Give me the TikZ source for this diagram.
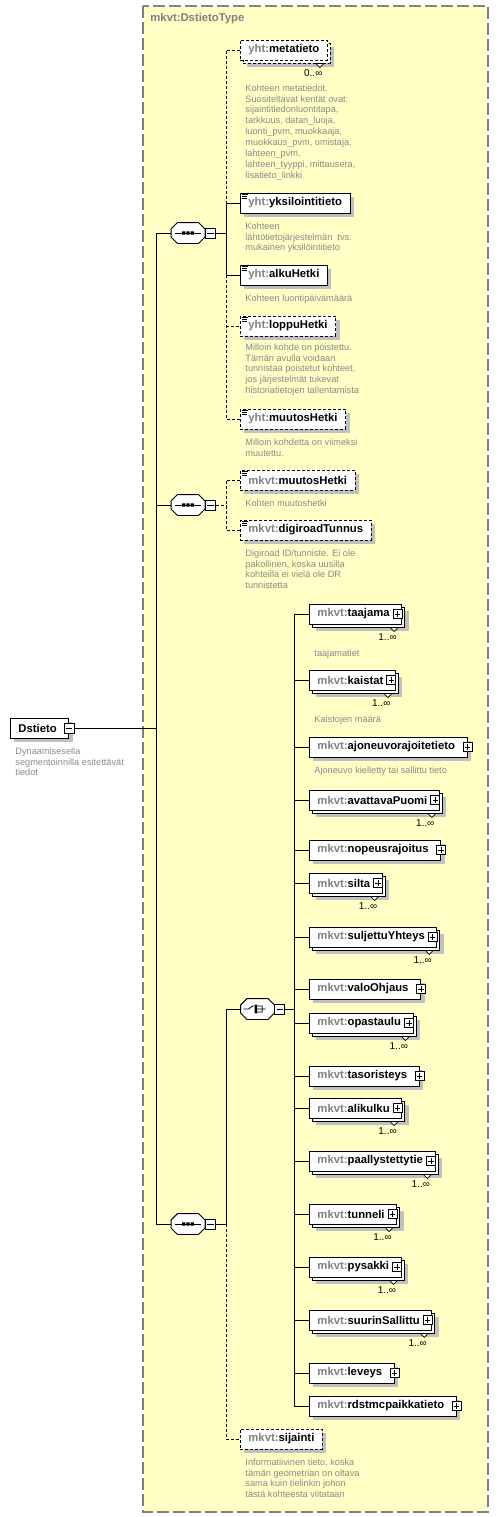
\documentclass[tikz,border=0pt]{standalone}
\usepackage{fontspec}
\setmainfont{Liberation Sans}
\usepackage{xcolor}
\usepackage{tikz}
\usetikzlibrary{positioning,shadows,calc}
\definecolor{typeyellow}{HTML}{FFFFC6}
\definecolor{framegray}{HTML}{808080}
\definecolor{pfxgray}{HTML}{808080}
\definecolor{descgray}{HTML}{8A8A8A}
\definecolor{shadegray}{HTML}{C0C0C0}
\newcommand{\elemfont}{\fontsize{11.3}{13.5}\selectfont\bfseries}
\newcommand{\docfont}{\fontsize{9.2}{10.9}\selectfont}
\newcommand{\xname}[2]{\textcolor{pfxgray}{#1:}#2}
% notch + occurrence label under a repeated element
\newcommand{\occurs}[2]{%
  \draw[solid, line width=0.7pt, fill=white] ([xshift=-12pt,yshift=-3pt]#1.south east) -- ([xshift=-4pt,yshift=-3pt]#1.south east) -- ([xshift=-8pt,yshift=-7pt]#1.south east) -- cycle;
  \node[mult] (#1Occ) at ([xshift=-5pt,yshift=-9pt]#1.south east) {#2};}
% octagon of a compositor, drawn round an invisible node
\newcommand{\octpath}[1]{([xshift=6.5pt]#1.north west) -- ([xshift=-6.5pt]#1.north east) -- ([yshift=-6.5pt]#1.north east) -- ([yshift=6.5pt]#1.south east) -- ([xshift=-6.5pt]#1.south east) -- ([xshift=6.5pt]#1.south west) -- ([yshift=6.5pt]#1.south west) -- ([yshift=-6.5pt]#1.north west) -- cycle}
\newcommand{\octbox}[1]{%
  \fill[shadegray, shift={(4pt,-4pt)}] \octpath{#1};
  \draw[fill=white] \octpath{#1};}
\newcommand{\seqmark}[1]{%
  \draw[line width=0.8pt] ([xshift=3.5pt]#1.west) -- ([xshift=-3.5pt]#1.east);
  \fill ([xshift=-5.8pt,yshift=-1.6pt]#1.center) rectangle +(3.2pt,3.2pt) ([xshift=-1.6pt,yshift=-1.6pt]#1.center) rectangle +(3.2pt,3.2pt) ([xshift=2.6pt,yshift=-1.6pt]#1.center) rectangle +(3.2pt,3.2pt);}
\newcommand{\choicemark}[1]{%
  \draw[line width=0.8pt] ([xshift=-14pt]#1.center) -- ([xshift=-9pt]#1.center) -- ([xshift=-4pt,yshift=3.5pt]#1.center)
    ([xshift=-0.5pt,yshift=3pt]#1.center) -- ([xshift=4.7pt,yshift=3pt]#1.center) -- ([xshift=4.7pt,yshift=-3pt]#1.center) -- ([xshift=-0.5pt,yshift=-3pt]#1.center)
    ([xshift=-0.5pt]#1.center) -- ([xshift=8pt]#1.center);
  \fill ([xshift=-3pt,yshift=-4.3pt]#1.center) rectangle +(2.7pt,2.6pt) ([xshift=-3pt,yshift=-1.3pt]#1.center) rectangle +(2.7pt,2.6pt) ([xshift=-3pt,yshift=1.7pt]#1.center) rectangle +(2.7pt,2.6pt);}

\begin{document}
\begin{tikzpicture}[x=1pt, y=-1pt, line width=0.9pt,
    elem/.style={draw, fill=white, rectangle, anchor=west, minimum height=20pt, inner xsep=8pt, inner ysep=0pt, font=\elemfont},
    one/.style={drop shadow={shadow xshift=4pt, shadow yshift=-4pt, fill=shadegray, opacity=1}},
    many/.style={drop shadow={shadow xshift=7pt, shadow yshift=-7pt, fill=shadegray, opacity=1}, copy shadow={shadow xshift=3pt, shadow yshift=-3pt}},
    opt/.style={dash pattern=on 3pt off 2pt},
    withplus/.style={execute at end node={\hspace{4pt}}},
    docmark/.style={path picture={\draw[solid, line width=0.7pt] ([xshift=2pt,yshift=-1.5pt]path picture bounding box.north west) -- ++(6pt,0pt) ([xshift=2pt,yshift=-3.2pt]path picture bounding box.north west) -- ++(5pt,0pt) ([xshift=2pt,yshift=-4.9pt]path picture bounding box.north west) -- ++(5pt,0pt);}},
    desc/.style={font=\docfont, text=descgray, align=left, anchor=north west, inner sep=0pt},
    mult/.style={font=\fontsize{10}{12}\selectfont, anchor=north east, inner sep=0pt},
    plusbox/.style={draw, solid, fill=white, rectangle, minimum size=9pt, inner sep=0pt, line width=0.8pt, path picture={\draw ([xshift=1.8pt]path picture bounding box.west) -- ([xshift=-1.8pt]path picture bounding box.east) ([yshift=-1.8pt]path picture bounding box.north) -- ([yshift=1.8pt]path picture bounding box.south);}},
    minusbox/.style={draw, solid, fill=white, rectangle, minimum size=10pt, inner sep=0pt, line width=0.8pt, path picture={\draw ([xshift=1.8pt]path picture bounding box.west) -- ([xshift=-1.8pt]path picture bounding box.east);}},
    compositor/.style={rectangle, minimum width=33pt, minimum height=20pt, inner sep=0pt}
]
\useasboundingbox (0,0) rectangle (499,1517);

% --- complex type frame ---
\draw[framegray, fill=typeyellow, line width=1.2pt, dash pattern=on 12pt off 4pt] (143,6) rectangle (488,1512);
\node[font=\elemfont, text=pfxgray, anchor=west, inner sep=0pt] (typeTitle) at (150,19) {mkvt:DstietoType};

% --- root element ---
\node[elem, one, withplus] (dstieto) at (10,728) {Dstieto};
\node[minusbox] (dstietoM) at (dstieto.east) {};
\node[desc] (dstietoD) at (15,747) {Dynaamisesella\\segmentoinnilla esitettävät\\tiedot};

% --- compositors ---
\node[compositor] (seqA) at (188,233) {};
\octbox{seqA}\seqmark{seqA}
\node[minusbox, right=0pt of seqA] (seqAM) {};
\node[compositor] (seqB) at (188,505) {};
\octbox{seqB}\seqmark{seqB}
\node[minusbox, right=0pt of seqB] (seqBM) {};
\node[compositor] (seqC) at (188,1224) {};
\octbox{seqC}\seqmark{seqC}
\node[minusbox, right=0pt of seqC] (seqCM) {};
\node[compositor] (choice) at (257.5,1009) {};
\octbox{choice}\choicemark{choice}
\node[minusbox, right=0pt of choice] (choiceM) {};

\coordinate (busMain) at (156,0);
\coordinate (busSeq) at (226,0);
\coordinate (busChoice) at (294,0);

% --- first sequence: yht elements ---
\node[elem, opt, many] (meta) at (240,50) {\xname{yht}{metatieto}};
\occurs{meta}{0..∞}
\node[desc] (metaD) at (245,84) {Kohteen metatiedot.\\Suositeltavat kentät ovat:\\sijaintitiedonluontitapa,\\tarkkuus, datan\_luoja,\\luonti\_pvm, muokkaaja,\\muokkaus\_pvm, omistaja,\\lahteen\_pvm,\\lahteen\_tyyppi, mittausera,\\lisatieto\_linkki};
\node[elem, one, docmark] (yksil) at (240,203) {\xname{yht}{yksilointitieto}};
\node[desc] (yksilD) at (245,222) {Kohteen\\lähtötietojärjestelmän\ \ tvs.\\mukainen yksilöintitieto};
\node[elem, one, docmark] (alku) at (240,275) {\xname{yht}{alkuHetki}};
\node[desc] (alkuD) at (245,294) {Kohteen luontipäivämäärä};
\node[elem, opt, one, docmark] (loppu) at (240,326) {\xname{yht}{loppuHetki}};
\node[desc] (loppuD) at (245,343) {Milloin kohde on poistettu.\\Tämän avulla voidaan\\tunnistaa poistetut kohteet,\\jos järjestelmät tukevat\\historiatietojen tallentamista};
\node[elem, opt, one, docmark] (muutosA) at (240,419) {\xname{yht}{muutosHetki}};
\node[desc] (muutosAD) at (245,438) {Milloin kohdetta on viimeksi\\muutettu.};

% --- second sequence ---
\node[elem, opt, one, docmark] (muutosB) at (240,480) {\xname{mkvt}{muutosHetki}};
\node[desc] (muutosBD) at (245,499) {Kohten muutoshetki};
\node[elem, opt, one, docmark] (digiroad) at (240,530) {\xname{mkvt}{digiroadTunnus}};
\node[desc] (digiroadD) at (245,549) {Digiroad ID/tunniste. Ei ole\\pakollinen, koska uusilla\\kohteilla ei vielä ole DR\\tunnistetta};

% --- choice members ---
\node[elem, many, withplus] (taajama) at (309,614) {\xname{mkvt}{taajama}};
\occurs{taajama}{1..∞}
\node[desc] (taajamaD) at (314,649) {taajamatiet};
\node[elem, many, withplus] (kaistat) at (309,680) {\xname{mkvt}{kaistat}};
\occurs{kaistat}{1..∞}
\node[desc] (kaistatD) at (314,715) {Kaistojen määrä};
\node[elem, one, withplus] (ajoneuvo) at (309,747) {\xname{mkvt}{ajoneuvorajoitetieto}};
\node[desc] (ajoneuvoD) at (314,766) {Ajoneuvo kielletty tai sallittu tieto};
\node[elem, many, withplus] (puomi) at (309,800) {\xname{mkvt}{avattavaPuomi}};
\occurs{puomi}{1..∞}
\node[elem, one, withplus] (nopeus) at (309,850) {\xname{mkvt}{nopeusrajoitus}};
\node[elem, many, withplus] (silta) at (309,883) {\xname{mkvt}{silta}};
\occurs{silta}{1..∞}
\node[elem, many, withplus] (suljettu) at (309,937) {\xname{mkvt}{suljettuYhteys}};
\occurs{suljettu}{1..∞}
\node[elem, one, withplus] (valo) at (309,989) {\xname{mkvt}{valoOhjaus}};
\node[elem, many, withplus] (opastaulu) at (309,1023) {\xname{mkvt}{opastaulu}};
\occurs{opastaulu}{1..∞}
\node[elem, one, withplus] (tasoristeys) at (309,1076) {\xname{mkvt}{tasoristeys}};
\node[elem, many, withplus] (alikulku) at (309,1108) {\xname{mkvt}{alikulku}};
\occurs{alikulku}{1..∞}
\node[elem, many, withplus] (paallyste) at (309,1161) {\xname{mkvt}{paallystettytie}};
\occurs{paallyste}{1..∞}
\node[elem, many, withplus] (tunneli) at (309,1214) {\xname{mkvt}{tunneli}};
\occurs{tunneli}{1..∞}
\node[elem, many, withplus] (pysakki) at (309,1267) {\xname{mkvt}{pysakki}};
\occurs{pysakki}{1..∞}
\node[elem, many, withplus] (suurin) at (309,1320) {\xname{mkvt}{suurinSallittu}};
\occurs{suurin}{1..∞}
\node[elem, one, withplus] (leveys) at (309,1373) {\xname{mkvt}{leveys}};
\node[elem, one, withplus] (rdstmc) at (309,1406) {\xname{mkvt}{rdstmcpaikkatieto}};
\foreach \n in {ajoneuvo,nopeus,valo,tasoristeys,leveys,rdstmc}
    \node[plusbox] (\n Plus) at (\n.east) {};
\foreach \n in {taajama,kaistat,puomi,silta,suljettu,opastaulu,alikulku,paallyste,tunneli,pysakki,suurin}
    \node[plusbox, anchor=east] (\n Plus) at ([xshift=0.4pt]\n.east) {};

% --- last optional element ---
\node[elem, opt, one] (sijainti) at (240,1439) {\xname{mkvt}{sijainti}};
\node[desc] (sijaintiD) at (245,1458) {Informatiivinen tieto, koska\\tämän geometrian on oltava\\sama kuin tielinkin johon\\tästä kohteesta viitataan};

% --- connectors ---
\draw (dstietoM.east) -- (dstietoM.east -| busMain);
\draw (seqA.west) -- (seqA.west -| busMain) -- (seqC.west -| busMain) -- (seqC.west);
\draw (seqB.west -| busMain) -- (seqB.west);

\draw (seqAM.east) -- (seqAM.east -| busSeq);
\draw[opt] (meta.west) -- (meta.west -| busSeq) -- (yksil.west -| busSeq);
\draw (yksil.west) -- (yksil.west -| busSeq) -- (alku.west -| busSeq) -- (alku.west);
\draw[opt] (alku.west -| busSeq) -- (muutosA.west -| busSeq) -- (muutosA.west);
\draw[opt] (loppu.west -| busSeq) -- (loppu.west);

\draw[opt] (seqBM.east) -- (seqBM.east -| busSeq);
\draw[opt] (muutosB.west) -- (muutosB.west -| busSeq) -- (digiroad.west -| busSeq) -- (digiroad.west);

\draw (seqCM.east) -- (seqCM.east -| busSeq) -- (choice.west -| busSeq) -- (choice.west);
\draw[opt] (seqCM.east -| busSeq) -- (sijainti.west -| busSeq) -- (sijainti.west);

\draw (choiceM.east) -- (choiceM.east -| busChoice);
\draw (taajama.west -| busChoice) -- (rdstmc.west -| busChoice);
\foreach \n in {taajama,kaistat,ajoneuvo,puomi,nopeus,silta,suljettu,valo,opastaulu,tasoristeys,alikulku,paallyste,tunneli,pysakki,suurin,leveys,rdstmc}
    \draw (\n.west -| busChoice) -- (\n.west);
\end{tikzpicture}
\end{document}
